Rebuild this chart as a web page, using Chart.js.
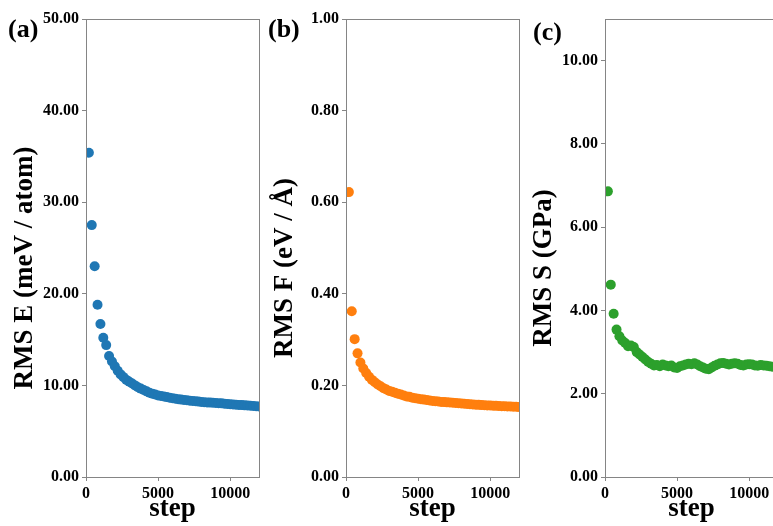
<!DOCTYPE html>
<html>
<head>
<meta charset="utf-8">
<script src="https://cdn.jsdelivr.net/npm/chart.js@4.4.0/dist/chart.umd.min.js"></script>
<style>
  html, body { margin: 0; padding: 0; background: #fff; overflow: hidden; }
  #wrap { position: relative; width: 773px; height: 526px; overflow: hidden; }
  #wrap canvas { position: absolute; top: 0; }
</style>
</head>
<body>
<div id="wrap">
  <canvas id="chart-e" width="264" height="526" style="left:0px"></canvas>
  <canvas id="chart-f" width="264" height="526" style="left:260px"></canvas>
  <canvas id="chart-s" width="264" height="526" style="left:519px"></canvas>
</div>
<script>
// training steps at which the errors were logged
const steps = [
  200, 400, 600, 800, 1000, 1200, 1400, 1600, 1800, 2000,
  2200, 2400, 2600, 2800, 3000, 3200, 3400, 3600, 3800, 4000,
  4200, 4400, 4600, 4800, 5000, 5200, 5400, 5600, 5800, 6000,
  6200, 6400, 6600, 6800, 7000, 7200, 7400, 7600, 7800, 8000,
  8200, 8400, 8600, 8800, 9000, 9200, 9400, 9600, 9800, 10000,
  10200, 10400, 10600, 10800, 11000, 11200, 11400, 11600, 11800, 12000
];

// RMS energy error (meV / atom)
const rmsE = [
  35.4, 27.5, 23.0, 18.8, 16.7, 15.2, 14.4, 13.2, 12.6, 12.1,
  11.6, 11.2, 10.9, 10.6, 10.4, 10.2, 10.0, 9.8, 9.65, 9.5,
  9.35, 9.2, 9.1, 9.0, 8.9, 8.84, 8.78, 8.72, 8.66, 8.6,
  8.55, 8.5, 8.45, 8.41, 8.37, 8.33, 8.3, 8.26, 8.23, 8.2,
  8.17, 8.14, 8.12, 8.1, 8.08, 8.06, 8.04, 8.01, 7.98, 7.95,
  7.92, 7.9, 7.87, 7.85, 7.82, 7.8, 7.77, 7.75, 7.73, 7.71
];

// RMS force error (eV / Å)
const rmsF = [
  0.622, 0.362, 0.301, 0.270, 0.250, 0.237, 0.227, 0.219, 0.212, 0.207,
  0.202, 0.198, 0.194, 0.191, 0.188, 0.186, 0.184, 0.182, 0.180, 0.178,
  0.176, 0.175, 0.173, 0.172, 0.171, 0.170, 0.169, 0.168, 0.167, 0.166,
  0.1655, 0.165, 0.164, 0.1635, 0.163, 0.1625, 0.162, 0.1615, 0.161, 0.1605,
  0.160, 0.1595, 0.159, 0.1585, 0.158, 0.1575, 0.157, 0.1567, 0.1563, 0.156,
  0.1557, 0.1553, 0.155, 0.1547, 0.1544, 0.1541, 0.1538, 0.1535, 0.1532, 0.153
];

// RMS stress error (GPa)
const rmsS = [
  6.86, 4.62, 3.92, 3.54, 3.38, 3.28, 3.22, 3.14, 3.16, 3.12,
  3.00, 2.94, 2.88, 2.82, 2.76, 2.72, 2.68, 2.69, 2.66, 2.70,
  2.68, 2.66, 2.68, 2.63, 2.62, 2.66, 2.68, 2.70, 2.72, 2.71,
  2.73, 2.70, 2.66, 2.63, 2.60, 2.59, 2.63, 2.67, 2.70, 2.73,
  2.74, 2.72, 2.70, 2.72, 2.73, 2.72, 2.69, 2.68, 2.70, 2.71,
  2.70, 2.68, 2.67, 2.69, 2.68, 2.67, 2.66, 2.65, 2.65, 2.64
];

const stepTicks = [0, 5000, 10000];
const yTicksE = [0, 10, 20, 30, 40, 50];
const yTicksF = [0, 0.2, 0.4, 0.6, 0.8, 1.0];
const yTicksS = [0, 2, 4, 6, 8, 10];

const SERIF = "'Liberation Serif', 'Times New Roman', serif";
const AXIS_GRAY = '#858585';

// box around the plotting area
const framePlugin = {
  id: 'frame',
  afterDraw(chart) {
    const { ctx, chartArea: a } = chart;
    ctx.save();
    ctx.strokeStyle = AXIS_GRAY;
    ctx.lineWidth = 1;
    ctx.strokeRect(Math.round(a.left) + 0.5, Math.round(a.top) + 0.5,
                   Math.round(a.right - a.left), Math.round(a.bottom - a.top));
    ctx.restore();
  }
};

// "(a)", "(b)", "(c)" tags and the rotated y-axis caption
const panelTextPlugin = {
  id: 'panelText',
  afterDraw(chart, args, opts) {
    const ctx = chart.ctx;
    ctx.save();
    ctx.fillStyle = '#000';
    ctx.font = 'bold 26px ' + SERIF;
    ctx.textBaseline = 'alphabetic';
    ctx.textAlign = 'left';
    ctx.fillText(opts.tag, opts.tagX, opts.tagY);

    ctx.font = 'bold 27px ' + SERIF;
    ctx.translate(opts.titleX, opts.titleY);
    ctx.rotate(-Math.PI / 2);
    ctx.textAlign = 'center';
    ctx.textBaseline = 'middle';
    ctx.fillText(opts.title, 0, 0);
    ctx.restore();
  }
};

function makePanel(canvasId, values, color, yTitle, yTicks, yMax, tag, tagX, tagY) {
  const points = steps.map((s, i) => ({ x: s, y: values[i] }));
  return new Chart(document.getElementById(canvasId), {
    type: 'scatter',
    data: {
      datasets: [{
        data: points,
        backgroundColor: color,
        borderWidth: 0,
        pointRadius: 5,
        pointHoverRadius: 5,
        clip: 0
      }]
    },
    options: {
      responsive: false,
      animation: false,
      layout: { padding: { top: 19, right: 3, bottom: 0, left: 0 } },
      plugins: {
        legend: { display: false },
        tooltip: { enabled: false },
        panelText: { tag: tag, tagX: tagX, tagY: tagY, title: yTitle, titleX: 25, titleY: 268 }
      },
      scales: {
        x: {
          type: 'linear',
          min: 0,
          max: 12000,
          afterFit: s => { s.height = 49; },
          afterBuildTicks: s => { s.ticks = stepTicks.map(v => ({ value: v })); },
          border: { display: false },
          grid: { drawOnChartArea: false, tickLength: 4, color: AXIS_GRAY, tickColor: AXIS_GRAY },
          ticks: {
            color: '#000',
            padding: 3,
            maxRotation: 0,
            font: { family: SERIF, size: 16, weight: 'bold' },
            callback: v => String(v)
          },
          title: {
            display: true,
            text: 'step',
            color: '#000',
            padding: { top: 0, bottom: 1 },
            font: { family: SERIF, size: 27, weight: 'bold' }
          }
        },
        y: {
          type: 'linear',
          min: 0,
          max: yMax,
          afterFit: s => { s.width = 86; },
          afterBuildTicks: s => { s.ticks = yTicks.map(v => ({ value: v })); },
          border: { display: false },
          grid: { drawOnChartArea: false, tickLength: 4, color: AXIS_GRAY, tickColor: AXIS_GRAY },
          ticks: {
            color: '#000',
            padding: 3,
            font: { family: SERIF, size: 16, weight: 'bold' },
            callback: v => Number(v).toFixed(2)
          },
          title: { display: false }
        }
      }
    },
    plugins: [framePlugin, panelTextPlugin]
  });
}

makePanel('chart-e', rmsE, '#1f77b4', 'RMS E (meV / atom)', yTicksE, 50, '(a)', 8, 37);
makePanel('chart-f', rmsF, '#ff7f0e', 'RMS F (eV / Å)', yTicksF, 1.0, '(b)', 8, 37);
makePanel('chart-s', rmsS, '#2ca02c', 'RMS S (GPa)', yTicksS, 11, '(c)', 14, 40);
</script>
</body>
</html>
